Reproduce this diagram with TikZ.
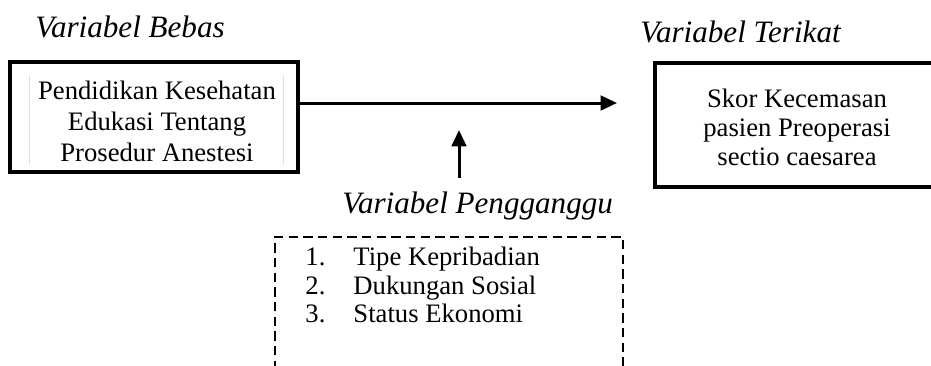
\documentclass[tikz,border=0pt]{standalone}
\usepackage{fontspec}
\setmainfont{Liberation Serif}
\usetikzlibrary{arrows.meta}
\tikzstyle{judul} = [font=\fontsize{14}{16}\selectfont\itshape, anchor=base west, inner sep=0pt]
\tikzstyle{varbox} = [draw, line width=1.7pt, inner sep=0pt]
\tikzstyle{isi} = [align=center, inner sep=0pt]
\tikzstyle{diredge} = [line width=1.35pt, -{Triangle[length=7.4pt,width=6.6pt]}]
\tikzstyle{dashbox} = [line width=1.2pt, dash pattern=on 4.2pt off 2.4pt]

\begin{document}
\begin{tikzpicture}[x=0.45pt,y=-0.45pt,every node/.style={font=\fontsize{12}{14}\selectfont}]
    \useasboundingbox (0,0) rectangle (931,365);
    % judul variabel
    \node[judul] (jbebas) at (35,37) {Variabel Bebas};
    \node[judul] (jterikat) at (640,42) {Variabel Terikat};
    \node[judul] (jganggu) at (342,213) {Variabel Pengganggu};
    % variabel bebas
    \node[varbox, minimum width=129.6pt, minimum height=49.5pt] (bebas) at (154,117) {};
    \foreach \x in {29,283}
        \draw[black!12, line width=0.4pt] (\x,75) -- (\x,165);
    \node[isi, font=\fontsize{12}{14}\selectfont] (tbebas) at (157,121)
        {Pendidikan Kesehatan\\Edukasi Tentang\\Prosedur Anestesi};
    % variabel terikat
    \node[varbox, minimum width=128.25pt, minimum height=55.8pt] (terikat) at (797.5,125) {};
    \node[isi, font=\fontsize{12}{13}\selectfont] (tterikat) at (797,127)
        {Skor Kecemasan\\pasien Preoperasi\\sectio caesarea};
    % panah
    \coordinate (ujung) at (617,103);
    \draw[diredge] (bebas.east |- ujung) -- (ujung);
    \coordinate (pangkal) at (459,178);
    \coordinate (puncak) at (459,130);
    \draw[diredge] (pangkal) -- (puncak);
    % variabel pengganggu
    \draw[dashbox] (275,370) -- (275,237) -- (623,237) -- (623,370);
    \node[align=left, inner sep=0pt, anchor=west, font=\fontsize{12}{13}\selectfont] (ganggu) at (305,285)
        {\makebox[21.6pt][l]{1.}Tipe Kepribadian\\
         \makebox[21.6pt][l]{2.}Dukungan Sosial\\
         \makebox[21.6pt][l]{3.}Status Ekonomi};
\end{tikzpicture}
\end{document}
